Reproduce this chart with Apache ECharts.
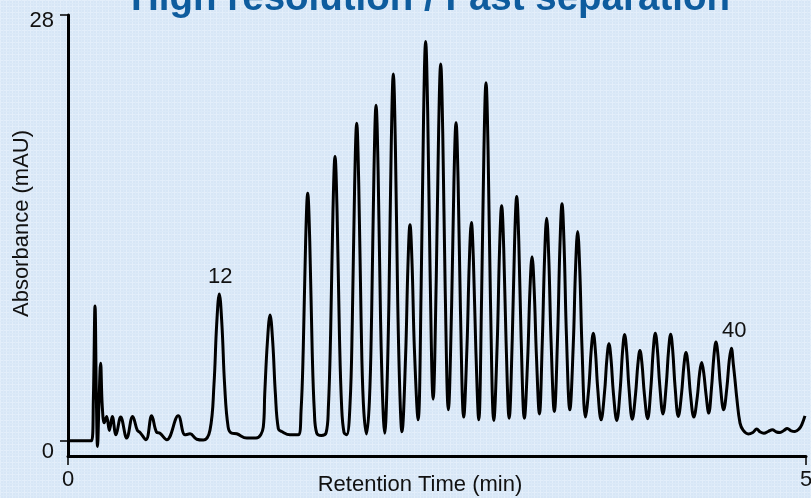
<!DOCTYPE html>
<html>
<head>
<meta charset="utf-8">
<script src="https://cdn.jsdelivr.net/npm/echarts@6/dist/echarts.min.js"></script>
<style>
html,body{margin:0;padding:0;background:#dae8f7;}
#chart{width:811px;height:498px;}
</style>
</head>
<body>
<div id="chart"></div>
<script>
// Retention time (min) of each sampled point of the trace
const retentionTime = [
0.000,0.160,0.172,0.183,0.192,0.200,0.210,0.221,0.232,0.246,0.262,0.280,0.300,0.325,0.357,0.398,0.438,0.470,0.488,0.528,
0.567,0.601,0.623,0.669,0.747,0.793,0.827,0.872,0.917,0.962,0.989,1.007,1.025,1.043,1.061,1.085,1.109,1.143,1.211,1.274,
1.323,1.333,1.351,1.369,1.387,1.405,1.425,1.448,1.504,1.560,
1.579,1.594,1.610,1.624,1.638,1.654,1.669,1.685,1.716,
1.748,1.764,1.779,1.795,1.809,1.823,1.839,1.854,1.870,1.888,
1.911,1.926,1.942,1.956,1.970,1.986,2.001,2.022,
2.042,2.057,2.073,2.087,2.101,2.117,2.132,2.146,
2.159,2.174,2.190,2.204,2.218,2.234,2.249,2.262,
2.287,2.303,2.317,2.331,2.347,2.372,
2.393,2.409,2.423,2.437,2.453,2.474,
2.495,2.511,2.525,2.539,2.555,2.577,
2.599,2.615,2.629,2.643,2.659,2.681,
2.703,2.719,2.733,2.747,2.763,2.783,
2.802,2.818,2.832,2.846,2.862,2.885,
2.908,2.924,2.938,2.952,2.968,2.989,
3.010,3.026,3.040,3.054,3.070,3.092,
3.114,3.130,3.144,3.158,3.174,3.194,
3.213,3.229,3.243,3.257,3.273,3.295,
3.317,3.333,3.347,3.361,3.377,3.400,
3.423,3.439,3.453,3.467,3.483,3.506,
3.529,3.545,3.559,3.573,3.589,3.612,
3.635,3.651,3.665,3.679,3.695,3.718,
3.741,3.757,3.771,3.785,3.801,3.823,
3.845,3.861,3.875,3.889,3.905,3.927,
3.949,3.965,3.979,3.993,4.009,4.031,
4.053,4.069,4.083,4.097,4.113,4.135,
4.157,4.173,4.187,4.201,4.217,4.240,
4.263,4.279,4.293,4.307,4.323,4.341,
4.360,4.376,4.390,4.404,4.420,4.442,
4.464,4.480,4.494,4.508,4.520,4.530,4.553,4.575,4.609,4.640,4.666,4.690,4.715,4.745,4.772,4.800,4.824,4.850,4.873,4.900,
4.925,4.955,4.971,4.993
];
// Absorbance (mAU) read at each of those times
const absorbance = [
0.00,0.00,2.80,8.87,3.00,-0.37,2.50,5.10,2.30,1.18,1.60,0.68,1.60,0.39,1.56,0.18,1.60,0.68,0.55,0.07,
1.64,0.55,0.50,0.07,1.64,0.39,0.46,0.10,0.05,0.70,3.70,7.60,9.66,7.60,3.70,0.90,0.50,0.46,0.18,0.18,
0.90,3.10,6.50,8.28,6.50,3.10,0.80,0.61,0.39,0.39,
1.98,6.11,13.10,16.28,13.09,6.08,1.94,0.50,0.35,
0.50,2.18,6.95,15.02,18.69,15.03,6.98,2.23,0.55,0.40,
2.45,7.77,16.78,20.88,16.79,7.80,2.49,0.45,
2.61,8.23,17.75,22.07,17.76,8.27,2.66,0.50,
2.86,9.00,19.40,24.12,19.42,9.07,2.95,0.60,
5.50,11.48,14.20,11.64,6.00,1.38,
10.33,21.28,26.25,21.55,11.20,2.74,
10.67,20.37,24.78,20.23,10.23,2.04,
8.84,17.14,20.92,17.05,8.53,1.56,
6.16,11.79,14.35,11.76,6.05,1.38,
9.36,19.12,23.55,19.11,9.34,1.34,
6.42,12.63,15.45,12.66,6.52,1.49,
6.74,13.15,16.06,13.15,6.74,1.49,
5.31,9.99,12.11,10.04,5.49,1.77,
6.40,12.07,14.64,12.10,6.51,1.93,
6.84,12.85,15.58,12.87,6.91,2.04,
6.26,11.42,13.76,11.32,5.95,1.56,
3.55,5.98,7.08,5.94,3.43,1.38,
3.18,5.38,6.38,5.37,3.15,1.34,
3.37,5.86,6.99,5.88,3.43,1.42,
3.05,5.04,5.94,5.04,3.07,1.45,
3.48,5.95,7.08,6.02,3.68,1.77,
3.66,5.96,7.01,5.93,3.55,1.60,
3.12,4.97,5.81,4.96,3.09,1.56,
2.85,4.43,5.15,4.48,3.02,1.82,
3.50,5.56,6.49,5.60,3.64,2.04,
3.50,5.28,6.09,5.00,3.90,2.91,1.16,0.68,0.45,0.55,0.77,0.58,0.50,0.62,0.72,0.58,0.55,0.68,0.81,0.65,
0.61,0.80,1.05,1.64
];
// Peak annotations: retention time of the labelled apex and its label
const peakLabelTimes = [1.025, 4.494];
const peakLabelTexts = ['12', '40'];
// Axis tick values
const xTicks = [0, 5];
const yTicks = [0, 28];
const titleText = 'High resolution / Fast separation';
const xTitle = 'Retention Time (min)';
const yTitle = 'Absorbance (mAU)';

const FONT = '"Liberation Sans", Arial, Helvetica, sans-serif';

// background plaid pattern
const tile = document.createElement('canvas');
tile.width = 6; tile.height = 6;
const tc = tile.getContext('2d');
tc.fillStyle = '#d7e6f6'; tc.fillRect(0,0,6,6);
tc.fillStyle = '#e3eefa'; tc.fillRect(0,0,6,1); tc.fillRect(0,0,1,6);
tc.fillStyle = '#dceaf8'; tc.fillRect(0,3,6,1); tc.fillRect(3,0,1,6);

const seriesData = retentionTime.map((t, i) => [t, absorbance[i]]);

const markData = peakLabelTimes.map((t, k) => {
  const i = retentionTime.indexOf(t);
  return {
    coord: [retentionTime[i], absorbance[i]],
    value: peakLabelTexts[k],
    label: { offset: [k === 1 ? 3 : 1, 0] }
  };
});

const chart = echarts.init(document.getElementById('chart'), null, { renderer: 'canvas' });
chart.setOption({
  backgroundColor: { image: tile, repeat: 'repeat' },
  animation: false,
  title: {
    text: titleText, left: 131, top: -20, padding: 0,
    textStyle: { fontFamily: FONT, fontSize: 38.5, fontWeight: 'bold', color: '#0e5c9e' }
  },
  grid: { left: 68, right: 5, top: 15, bottom: 42, containLabel: false, outerBoundsMode: 'none' },
  xAxis: {
    type: 'value', min: 0, max: 5,
    splitLine: { show: false },
    axisLine: { show: true, onZero: false, lineStyle: { color: '#000', width: 3 } },
    axisTick: { show: true, customValues: xTicks, length: 9, lineStyle: { color: '#000', width: 1.5 } },
    axisLabel: { customValues: xTicks, margin: 13, fontFamily: FONT, fontSize: 22, color: '#111' },
    name: xTitle, nameLocation: 'middle', nameGap: 18, nameMoveOverlap: false,
    nameTextStyle: { fontFamily: FONT, fontSize: 22, color: '#111', padding: [0, 34, 0, 0] }
  },
  yAxis: {
    type: 'value', min: -1, max: 28,
    splitLine: { show: false },
    axisLine: { show: true, onZero: false, lineStyle: { color: '#000', width: 3 } },
    axisTick: { show: true, customValues: yTicks, length: 8, lineStyle: { color: '#000', width: 1.5 } },
    axisLabel: {
      customValues: yTicks, margin: 14, fontFamily: FONT, fontSize: 22, color: '#111',
      formatter: v => (v === 0 ? '{z|0}' : '{t|' + v + '}'),
      rich: {
        z: { fontFamily: FONT, fontSize: 22, color: '#111', padding: [22, 0, 0, 0] },
        t: { fontFamily: FONT, fontSize: 22, color: '#111', padding: [12, 0, 0, 0] }
      }
    },
    name: yTitle, nameLocation: 'middle', nameGap: 35, nameRotate: 90, nameMoveOverlap: false,
    nameTextStyle: { fontFamily: FONT, fontSize: 22, color: '#111', padding: [0, 0, 0, 24] }
  },
  series: [{
    type: 'line',
    data: seriesData,
    showSymbol: false,
    symbol: 'none',
    smooth: 0.4,
    lineStyle: { color: '#000', width: 3 },
    clip: false,
    z: 3,
    markPoint: {
      symbol: 'circle', symbolSize: 0,
      label: { show: true, position: 'top', distance: 6, formatter: p => p.value,
               fontFamily: FONT, fontSize: 22, color: '#111' },
      data: markData
    }
  }]
});
</script>
</body>
</html>
